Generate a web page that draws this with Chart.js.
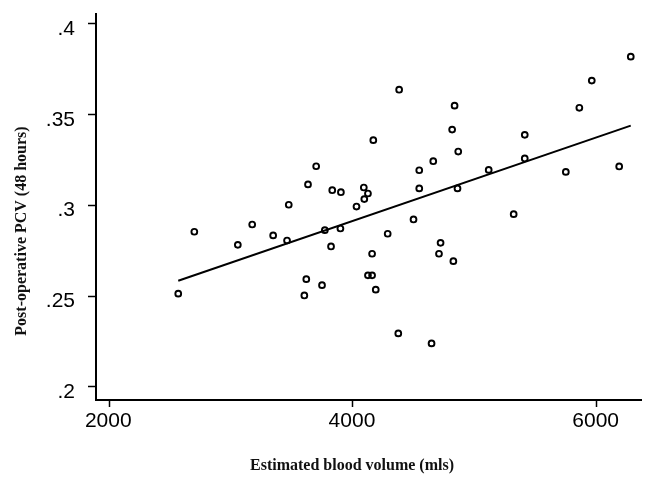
<!DOCTYPE html>
<html><head><meta charset="utf-8">
<script src="https://cdn.jsdelivr.net/npm/chart.js@4"></script>
<style>html,body{margin:0;padding:0;background:#fff}#wrap{width:646px;height:482px}</style>
</head><body><div id="wrap"><canvas id="c" width="646" height="482"></canvas></div>
<script>
// Estimated blood volume (mls)
const bloodVolume = [2566,2698,3055,3173,3345,3459,3473,3601,3617,3631,3698,3746,3769,3820,3830,3901,3897,4029,4089,4093,4123,4167,4157,4123,4157,4187,4285,4379,4372,4497,4544,4544,4659,4645,4719,4706,4824,4814,4834,4864,4858,5114,5319,5410,5410,5747,5858,5960,6185,6280];
// Post-operative PCV (48 hours)
const pcv = [0.2514,0.2855,0.2783,0.2895,0.2835,0.2807,0.3004,0.2504,0.2594,0.3116,0.3216,0.2561,0.2864,0.2774,0.3084,0.3073,0.2873,0.2994,0.3099,0.3035,0.3066,0.3360,0.2734,0.2615,0.2615,0.2536,0.2844,0.3638,0.2295,0.2923,0.3194,0.3094,0.3244,0.2240,0.2794,0.2734,0.2693,0.3418,0.3550,0.3297,0.3094,0.3196,0.2952,0.3389,0.3259,0.3185,0.3538,0.3688,0.3215,0.3820];
// fitted line end points
const fitX = [2566, 6280];
const fitY = [0.2585, 0.3440];
const xTicks = [2000, 4000, 6000];
const yTicks = [0.2, 0.25, 0.3, 0.35, 0.4];
const yTickLabels = ['.2', '.25', '.3', '.35', '.4'];
const xTitle = 'Estimated blood volume (mls)';
const yTitle = 'Post-operative PCV (48 hours)';

const points = bloodVolume.map((v, i) => ({x: v, y: pcv[i]}));
const fitPoints = fitX.map((v, i) => ({x: v, y: fitY[i]}));

const axisTitles = {
  id: 'axisTitles',
  afterDraw(chart) {
    const ctx = chart.ctx;
    ctx.save();
    ctx.font = 'bold 16px "Liberation Serif"';
    ctx.fillStyle = '#111';
    ctx.textAlign = 'center';
    ctx.textBaseline = 'middle';
    ctx.fillText(xTitle, 352, 466);
    ctx.translate(22, 231);
    ctx.rotate(-Math.PI / 2);
    ctx.fillText(yTitle, 0, 0);
    ctx.restore();
  }
};

new Chart(document.getElementById('c'), {
  type: 'scatter',
  data: {
    datasets: [
      {data: points, showLine: false, pointRadius: 2.9, pointBorderWidth: 1.9,
       pointBorderColor: '#000', pointBackgroundColor: 'rgba(255,255,255,0)', pointHoverRadius: 2.9},
      {data: fitPoints, showLine: true, pointRadius: 0, borderColor: '#000', borderWidth: 2, fill: false}
    ]
  },
  options: {
    responsive: false,
    animation: false,
    devicePixelRatio: 1,
    layout: {padding: {top: 14, right: 5, left: 0, bottom: 0}},
    plugins: {legend: {display: false}, tooltip: {enabled: false}},
    scales: {
      x: {
        type: 'linear', min: 1891, max: 6364,
        afterBuildTicks: s => { s.ticks = xTicks.map(v => ({value: v})); },
        afterFit: s => { s.height = 82; s.paddingLeft = 0; s.paddingRight = 0; },
        grid: {display: true, drawOnChartArea: false, drawTicks: true, tickLength: 7, tickWidth: 1.5, tickColor: '#000'},
        border: {display: true, color: '#000', width: 2},
        ticks: {color: '#000', font: {family: '"Liberation Sans"', size: 21}, padding: 2, maxRotation: 0,
                labelOffset: -1, callback: v => String(v)}
      },
      y: {
        type: 'linear', min: 0.1928, max: 0.4055,
        afterBuildTicks: s => { s.ticks = yTicks.map(v => ({value: v})); },
        afterFit: s => { s.width = 96; s.paddingTop = 0; s.paddingBottom = 0; },
        grid: {display: true, drawOnChartArea: false, drawTicks: true, tickLength: 8, tickWidth: 1.5, tickColor: '#000'},
        border: {display: true, color: '#000', width: 2},
        ticks: {color: '#000', font: {family: '"Liberation Sans"', size: 21}, padding: 13, labelOffset: 5,
                callback: v => yTickLabels[yTicks.findIndex(t => Math.abs(t - v) < 1e-9)]}
      }
    }
  },
  plugins: [axisTitles]
});
</script>
</body></html>
